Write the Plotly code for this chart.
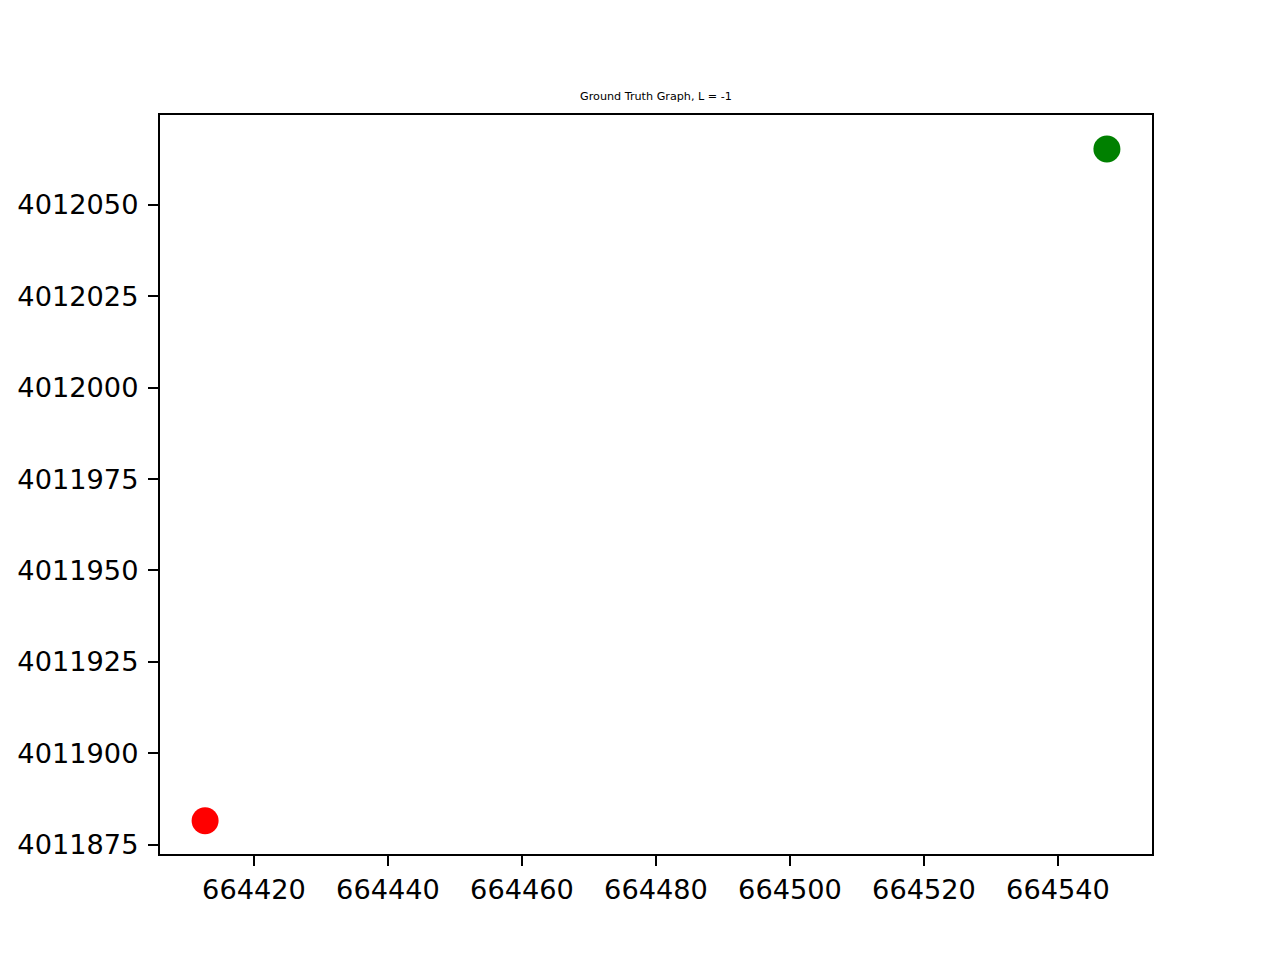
import plotly.graph_objects as go

# Data
point_x = [664412.7, 664547.3]
point_y = [4011881.5, 4012065.3]
point_colors = ["red", "green"]
title_text = "Ground Truth Graph, L = -1"

fig = go.Figure()
fig.add_trace(go.Scatter(
    x=point_x, y=point_y, mode="markers",
    marker=dict(color=point_colors, size=27, line=dict(width=0)),
    showlegend=False,
))

font_main = "DejaVu Sans"
axis_common = dict(
    showgrid=False, zeroline=False,
    showline=True, linecolor="black", linewidth=2.2, mirror=True,
    ticks="outside", ticklen=10, tickwidth=2.2, tickcolor="black",
    tickfont=dict(family=font_main, size=27.2, color="black"),
    tickformat="d",
)

fig.update_layout(
    width=1280, height=960,
    margin=dict(l=160, r=128, t=115, b=106),
    paper_bgcolor="white", plot_bgcolor="white",
    title=dict(
        text=title_text,
        font=dict(family=font_main, size=11.2, color="black"),
        x=0.5, xref="paper", xanchor="center",
        y=1, yref="paper", yanchor="bottom",
        pad=dict(b=15),
    ),
    xaxis=dict(range=[664405.97, 664554.03], dtick=20, tick0=664420,
               ticklabelstandoff=0, **axis_common),
    yaxis=dict(range=[4011872.4, 4012074.6], dtick=25, tick0=4011875,
               ticklabelstandoff=4, **axis_common),
)

fig.write_html("out.html")
